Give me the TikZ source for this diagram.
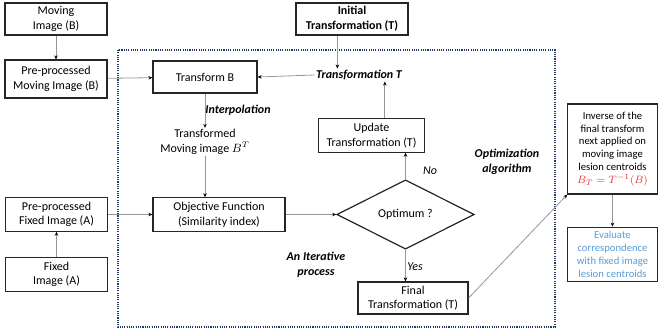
\documentclass[tikz,border=0pt]{standalone}
\usepackage{fontspec}
\setmainfont{Carlito}
\usetikzlibrary{shapes.geometric,arrows.meta}
\definecolor{navy}{RGB}{31,56,100}
\definecolor{fred}{RGB}{222,52,52}
\definecolor{fblue}{RGB}{91,155,213}
\definecolor{lgray}{RGB}{150,150,150}
\tikzset{
  box/.style={draw=black!85, line width=0.9pt, align=center, inner sep=1pt, font=\fontsize{9}{11}\selectfont},
  lbl/.style={align=center, inner sep=1pt, font=\fontsize{9}{11}\selectfont},
  bilbl/.style={lbl, font=\fontsize{9}{11}\selectfont\bfseries\itshape},
  arr/.style={draw=lgray, line width=0.6pt, -{Stealth[length=3pt,width=2.6pt,color=black,fill=black]}},
  ln/.style={draw=lgray, line width=0.6pt},
}
\begin{document}
\begin{tikzpicture}[x=0.75pt,y=-0.75pt]
\useasboundingbox (0,0) rectangle (658,335);
\draw[navy, line width=1.1pt, dash pattern=on 0.8pt off 0.9pt] (118,50) rectangle (555,327);

\node[box, minimum width=76.5pt, minimum height=24pt] (movB) at (56,19) {Moving\\Image (B)};
\node[box, minimum width=76.5pt, minimum height=28.5pt] (preB) at (56,79) {Pre-processed\\Moving Image (B)};
\node[box, minimum width=77pt, minimum height=25pt] (preA) at (56.5,214.5) {Pre-processed\\Fixed Image (A)};
\node[box, minimum width=77pt, minimum height=25pt] (fixA) at (56.5,274.5) {Fixed\\Image (A)};
\node[box, minimum width=78pt, minimum height=24pt] (transB) at (205,77) {Transform B};
\node[box, minimum width=84pt, minimum height=24pt, font=\fontsize{9}{11}\selectfont\bfseries] (init) at (352,19) {Initial\\Transformation (T)};
\node[box, minimum width=79pt, minimum height=25pt] (update) at (371.5,135.5) {Update\\Transformation (T)};
\node[box, minimum width=99pt, minimum height=25pt] (obj) at (219,214.5) {Objective Function\\(Similarity index)};
\node[box, minimum width=82.5pt, minimum height=24pt] (final) at (413,298) {Final\\Transformation (T)};
\node[box, diamond, aspect=2, inner sep=0pt, minimum width=103pt, minimum height=52pt] (diam) at (405.5,214.5) {Optimum ?};
\node[box, minimum width=67pt, minimum height=67.5pt, font=\fontsize{8}{9.6}\selectfont] (inv) at (612.5,149) {Inverse of the\\final transform\\next applied on\\moving image\\lesion centroids\\\textcolor{fred}{$B_T=T^{-1}(B)$}};
\node[box, minimum width=67pt, minimum height=41pt, font=\fontsize{8}{9.6}\selectfont, text=fblue] (eval) at (612.5,254.5) {Evaluate\\correspondence\\with fixed image\\lesion centroids};

\node[bilbl] (transT) at (359,75) {Transformation T};
\node[bilbl] (interp) at (238,110) {Interpolation};
\node[lbl] (transf) at (205,142) {Transformed\\Moving image $B^T$};
\node[lbl, font=\fontsize{9}{11}\selectfont\itshape] (no) at (430,171) {No};
\node[lbl, font=\fontsize{9}{11}\selectfont\itshape] (yes) at (415,267) {Yes};
\node[bilbl] (optalg) at (507,162) {Optimization\\algorithm};
\node[bilbl] (iter) at (316,265) {An Iterative\\process};

\draw[arr] (movB) -- (preB);
\draw[arr] (preB) -- (transB);
\draw[arr] ([xshift=-11pt]init.south) -- ([xshift=-11pt]init.south |- transT.north);
\draw[arr] (transT.west) -- (transB.east);
\draw[arr] ([xshift=10pt]update.north) -- ([xshift=10pt]update.north |- transT.south);
\draw[arr] (transB.south) -- (transB.south |- transf.north);
\draw[arr] (transf.south) -- (transf.south |- obj.north);
\draw[arr] (fixA) -- (preA);
\draw[arr] (preA) -- (obj);
\draw[arr] (obj.east) -- (diam.west);
\draw[arr] (diam.north) -- (diam.north |- update.south);
\draw[arr] (diam.south) -- (diam.south |- final.north);
\draw[arr] (final.east) -- (inv.south west);
\draw[arr] (inv) -- (eval);
\end{tikzpicture}
\end{document}
